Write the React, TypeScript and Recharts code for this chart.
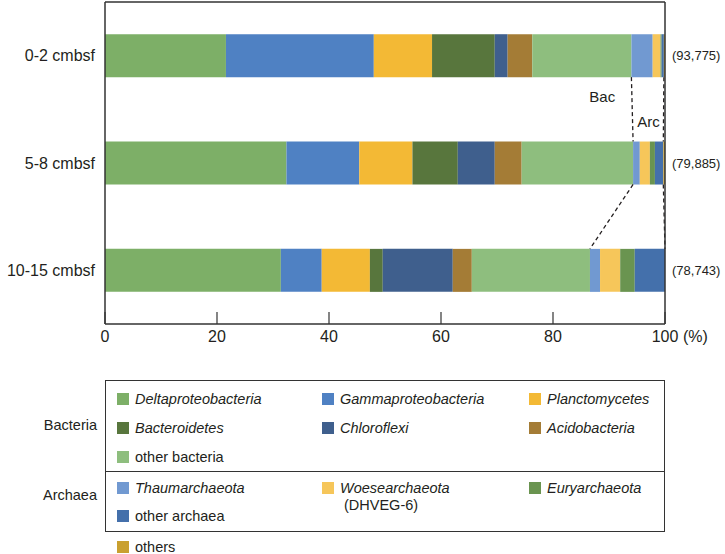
import { BarChart, Bar, XAxis, YAxis, ReferenceLine } from "recharts";

const depths = ["0-2 cmbsf", "5-8 cmbsf", "10-15 cmbsf"];
const readCounts = ["(93,775)", "(79,885)", "(78,743)"];
const xTicks = [0, 20, 40, 60, 80, 100];

// relative abundance (%) per depth, top to bottom
const deltaproteobacteria = [21.6, 32.4, 31.4];
const gammaproteobacteria = [26.4, 13.0, 7.3];
const planctomycetes = [10.4, 9.5, 8.6];
const bacteroidetes = [11.2, 8.1, 2.3];
const chloroflexi = [2.3, 6.6, 12.5];
const acidobacteria = [4.4, 4.8, 3.4];
const otherBacteria = [17.7, 19.9, 21.1];
const thaumarchaeota = [3.8, 1.2, 1.8];
const woesearchaeota = [1.4, 1.8, 3.6];
const euryarchaeota = [0.2, 0.9, 2.6];
const otherArchaea = [0.4, 1.5, 5.4];
const others = [0.2, 0.3, 0.0];

const BACTERIA = [
  { key: "delta", label: "Deltaproteobacteria", values: deltaproteobacteria, color: "#7daf67", italic: true },
  { key: "gamma", label: "Gammaproteobacteria", values: gammaproteobacteria, color: "#4f81c3", italic: true },
  { key: "plancto", label: "Planctomycetes", values: planctomycetes, color: "#f3b935", italic: true },
  { key: "bactero", label: "Bacteroidetes", values: bacteroidetes, color: "#58763d", italic: true },
  { key: "chloro", label: "Chloroflexi", values: chloroflexi, color: "#3f5f8d", italic: true },
  { key: "acido", label: "Acidobacteria", values: acidobacteria, color: "#a47c36", italic: true },
  { key: "otherBac", label: "other bacteria", values: otherBacteria, color: "#8ebe7e", italic: false },
];
const ARCHAEA = [
  { key: "thaum", label: "Thaumarchaeota", values: thaumarchaeota, color: "#7199d1", italic: true },
  { key: "woese", label: "Woesearchaeota", values: woesearchaeota, color: "#f6c65a", italic: true },
  { key: "eury", label: "Euryarchaeota", values: euryarchaeota, color: "#6a9450", italic: true },
  { key: "otherArc", label: "other archaea", values: otherArchaea, color: "#4470ab", italic: false },
];
const OTHERS = { key: "others", label: "others", values: others, color: "#c9a02f", italic: false };
const SERIES = [...BACTERIA, ...ARCHAEA, OTHERS];

const rows = depths.map((depth, i) => {
  const row: Record<string, string | number> = { depth };
  SERIES.forEach((s) => (row[s.key] = s.values[i]));
  return row;
});

const sumAt = (list: typeof SERIES, i: number) => list.reduce((t, s) => t + s.values[i], 0);
const bacEnd = depths.map((_, i) => sumAt(BACTERIA, i));
const arcEnd = depths.map((_, i) => bacEnd[i] + sumAt(ARCHAEA, i));

const BAR_FRACTION = 0.4; // bar thickness / band (barCategoryGap 30%)
const FONT = '"Liberation Sans", Arial, sans-serif';
const INK = "#231f20";

// segment goes centre-to-centre; trim it to bar bottom -> next bar top
function linkShape(label?: string, dx = 0, dy = 0) {
  return (p: any) => {
    const h = ((p.y2 - p.y1) * BAR_FRACTION) / 2;
    const y1 = p.y1 + h;
    const y2 = p.y2 - h;
    return (
      <g>
        <line x1={p.x1} y1={y1} x2={p.x2} y2={y2} stroke={INK} strokeWidth={1.3} strokeDasharray="4 3" />
        {label && (
          <text x={(p.x1 + p.x2) / 2 + dx} y={(y1 + y2) / 2 + dy} textAnchor="middle" dominantBaseline="central" fontSize={15} fill={INK}>
            {label}
          </text>
        )}
      </g>
    );
  };
}

const links = [
  { ends: bacEnd, i: 0, shape: linkShape("Bac", -30, -13) },
  { ends: arcEnd, i: 0, shape: linkShape("Arc", -15, 12) },
  { ends: bacEnd, i: 1, shape: linkShape() },
  { ends: arcEnd, i: 1, shape: linkShape() },
];

function XTick({ x, y, payload }: any) {
  if (payload.value === 100) {
    return (
      <g>
        <text x={x} y={y} dy="0.71em" textAnchor="middle" fontSize={16} fill={INK}>100</text>
        <text x={x + 18} y={y} dy="0.71em" textAnchor="start" fontSize={16} fill={INK}>(%)</text>
      </g>
    );
  }
  return (
    <text x={x} y={y} dy="0.71em" textAnchor="middle" fontSize={16} fill={INK}>
      {payload.value}
    </text>
  );
}

function Swatch({ color }: { color: string }) {
  return <span style={{ display: "inline-block", width: 12, height: 12, background: color, marginRight: 6 }} />;
}

function LegendItem({ item, x, y, sub }: { item: (typeof SERIES)[number]; x: number; y: number; sub?: string }) {
  return (
    <div style={{ position: "absolute", left: x, top: y - 9, fontSize: 14.5, lineHeight: "18px", color: INK }}>
      <div style={{ display: "flex", alignItems: "center" }}>
        <Swatch color={item.color} />
        <span style={{ fontStyle: item.italic ? "italic" : "normal" }}>{item.label}</span>
      </div>
      {sub && <div style={{ paddingLeft: 22, marginTop: -1 }}>{sub}</div>}
    </div>
  );
}

const frame = { stroke: "#333", strokeWidth: 1.5 };

export default function App() {
  const colX = [117, 322, 529];
  return (
    <div style={{ position: "absolute", left: 0, top: 0, width: 725, height: 554, fontFamily: FONT, background: "#fff" }}>
      <BarChart
        width={725}
        height={360}
        data={rows}
        layout="vertical"
        barCategoryGap="30%"
        margin={{ top: 1, right: 0, bottom: 0, left: 0 }}
      >
        <XAxis
          type="number"
          domain={[0, 100]}
          ticks={xTicks}
          tickSize={-12}
          tickMargin={19}
          height={36}
          tick={<XTick />}
          axisLine={frame}
          tickLine={{ stroke: "#333", strokeWidth: 1.2 }}
        />
        <XAxis
          xAxisId="top"
          orientation="top"
          type="number"
          domain={[0, 100]}
          height={1}
          tick={false}
          tickLine={false}
          axisLine={frame}
        />
        <YAxis
          type="category"
          dataKey="depth"
          width={105}
          tickSize={0}
          tickMargin={10}
          axisLine={frame}
          tickLine={false}
          tick={{ fontSize: 16, fill: INK }}
        />
        <YAxis
          yAxisId="right"
          orientation="right"
          type="category"
          dataKey="depth"
          width={60}
          tickSize={0}
          tickMargin={7}
          axisLine={frame}
          tickLine={false}
          tick={{ fontSize: 13, fill: INK }}
          tickFormatter={(_v: string, i: number) => readCounts[i]}
        />
        {SERIES.map((s) => (
          <Bar key={s.key} dataKey={s.key} stackId="a" fill={s.color} isAnimationActive={false} />
        ))}
        {links.map(({ ends, i, shape }, k) => (
          <ReferenceLine
            key={k}
            segment={[
              { x: ends[i], y: depths[i] },
              { x: ends[i + 1], y: depths[i + 1] },
            ]}
            shape={shape}
            ifOverflow="visible"
          />
        ))}
      </BarChart>

      <div style={{ position: "absolute", left: 105, top: 380, width: 560, height: 152, border: "1.5px solid #333", boxSizing: "border-box" }} />
      <div style={{ position: "absolute", left: 105, top: 471, width: 560, height: 0, borderTop: "1.5px solid #333" }} />
      <div style={{ position: "absolute", right: 725 - 97, top: 417, fontSize: 14.5, color: INK }}>Bacteria</div>
      <div style={{ position: "absolute", right: 725 - 97, top: 487, fontSize: 14.5, color: INK }}>Archaea</div>

      <LegendItem item={BACTERIA[0]} x={colX[0]} y={399} />
      <LegendItem item={BACTERIA[1]} x={colX[1]} y={399} />
      <LegendItem item={BACTERIA[2]} x={colX[2]} y={399} />
      <LegendItem item={BACTERIA[3]} x={colX[0]} y={428} />
      <LegendItem item={BACTERIA[4]} x={colX[1]} y={428} />
      <LegendItem item={BACTERIA[5]} x={colX[2]} y={428} />
      <LegendItem item={BACTERIA[6]} x={colX[0]} y={457} />
      <LegendItem item={ARCHAEA[0]} x={colX[0]} y={488} />
      <LegendItem item={ARCHAEA[1]} x={colX[1]} y={488} sub="(DHVEG-6)" />
      <LegendItem item={ARCHAEA[2]} x={colX[2]} y={488} />
      <LegendItem item={ARCHAEA[3]} x={colX[0]} y={516} />
      <LegendItem item={OTHERS} x={colX[0]} y={547} />
    </div>
  );
}
